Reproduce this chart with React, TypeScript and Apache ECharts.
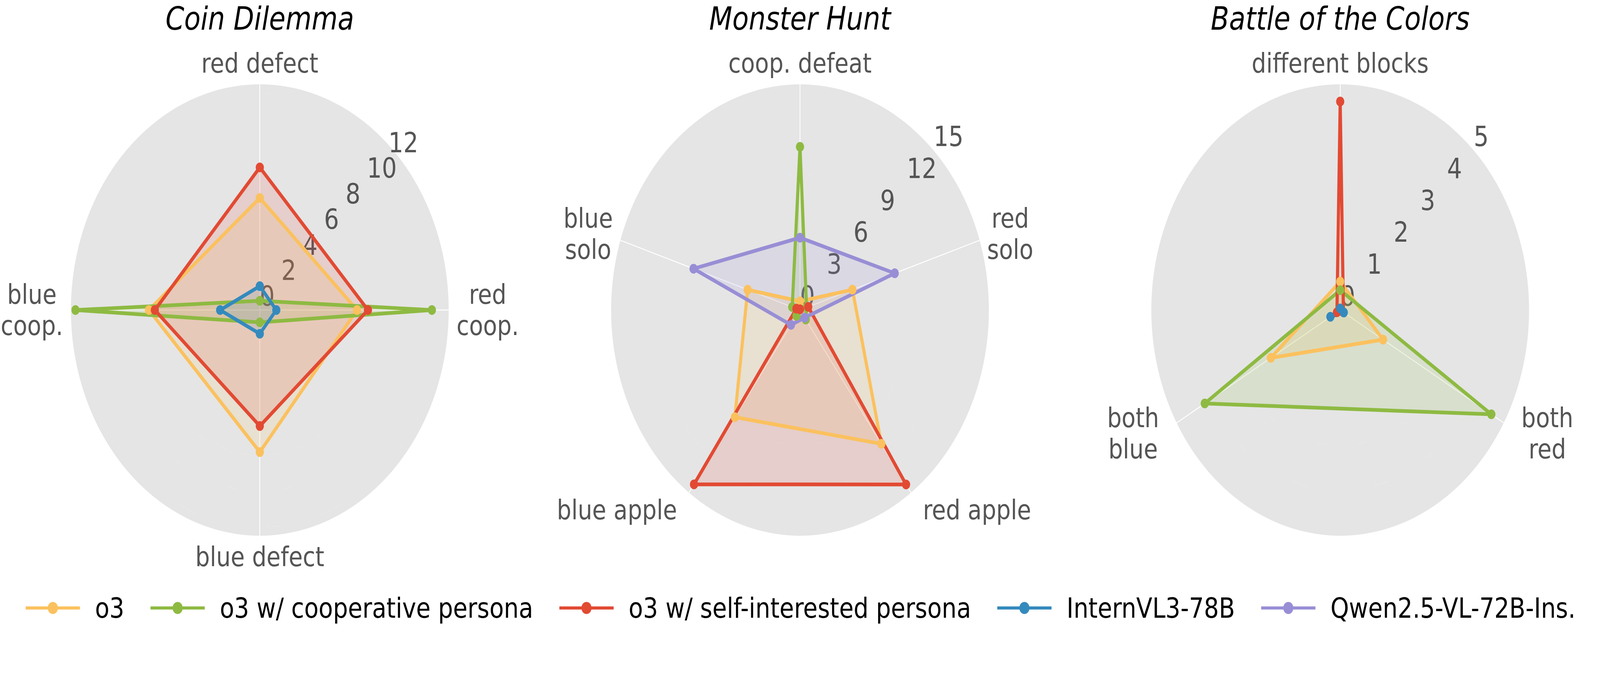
import React, { useEffect, useRef } from 'react';
import * as echarts from 'echarts';

// ---------- data ----------
const SERIES_NAMES = ['o3', 'o3 w/ cooperative persona', 'o3 w/ self-interested persona', 'InternVL3-78B', 'Qwen2.5-VL-72B-Ins.'];
const SERIES_COLORS = ['#FBC15E', '#8EBA42', '#E24A33', '#348ABD', '#988ED5'];

const coinTitle = 'Coin Dilemma';
const coinCategories = ['red defect', 'red\ncoop.', 'blue defect', 'blue\ncoop.'];
const coinTicks = [0, 2, 4, 6, 8, 10, 12];
const coinMax = 12.47;
const coinO3 = [6.19, 6.42, 7.85, 7.32];
const coinCoop = [0.51, 11.36, 0.68, 12.17];
const coinSelf = [7.88, 7.14, 6.41, 6.93];
const coinIntern = [1.32, 1.09, 1.31, 2.62];

const monsterTitle = 'Monster Hunt';
const monsterCategories = ['coop. defeat', 'red\nsolo', 'red apple', 'blue apple', 'blue\nsolo'];
const monsterTicks = [0, 3, 6, 9, 12, 15];
const monsterMax = 15;
const monsterO3 = [0.58, 4.38, 10.99, 8.8, 4.37];
const monsterCoop = [10.85, 0.55, 0.78, 0.47, 0.65];
const monsterSelf = [0.05, 0.69, 14.33, 14.32, 0.3];
const monsterQwen = [4.81, 7.91, 0.63, 1.22, 8.89];

const battleTitle = 'Battle of the Colors';
const battleCategories = ['different blocks', 'both\nred', 'both\nblue'];
const battleTicks = [0, 1, 2, 3, 4, 5];
const battleMax = 5;
const battleO3 = [0.63, 1.31, 2.12];
const battleCoop = [0.44, 4.62, 4.14];
const battleSelf = [4.62, 0.1, 0.1];
const battleIntern = [0.035, 0.11, 0.3];

// ---------- layout / style (reference pixels) ----------
const FONT = 'DejaVu Sans';
const REF_W = 4896;
const REF_H = 1785;
const CENTERS_X = [795, 2448, 4101];
const CENTER_Y = 794;
const RADIUS = 578;
const TICK_FS = 72;
const LABEL_FS = 70;
const LABEL_LH = 80;
const TITLE_FS = 82;
const LEGEND_FS = 72;
const LINE_W = 9.5;
const SYMBOL_SIZE = 25;
const M_H_FLAT = 24;
const M_H_DIAG = 62;
const M_V = 54;

const charts = [
  { title: coinTitle, categories: coinCategories, ticks: coinTicks, rMax: coinMax, values: [coinO3, coinCoop, coinSelf, coinIntern, null] },
  { title: monsterTitle, categories: monsterCategories, ticks: monsterTicks, rMax: monsterMax, values: [monsterO3, monsterCoop, monsterSelf, null, monsterQwen] },
  { title: battleTitle, categories: battleCategories, ticks: battleTicks, rMax: battleMax, values: [battleO3, battleCoop, battleSelf, battleIntern, null] },
];

function measureText(text: string, size: number): number {
  const ctx = document.createElement('canvas').getContext('2d');
  if (!ctx) return text.length * size * 0.6;
  ctx.font = `${size}px "${FONT}"`;
  return Math.max(...text.split('\n').map((l) => ctx.measureText(l).width));
}

function buildOption() {
  const polar: any[] = [];
  const angleAxis: any[] = [];
  const radiusAxis: any[] = [];
  const series: any[] = [];
  const title: any[] = [];

  charts.forEach((ch, k) => {
    const n = ch.categories.length;
    const step = 360 / n;
    const tickStep = ch.ticks[1] - ch.ticks[0];
    const cx = CENTERS_X[k];
    const cy = CENTER_Y;
    const pA = 2 * k;
    const pB = 2 * k + 1;

    title.push({
      text: ch.title,
      left: cx,
      top: 7,
      padding: 0,
      textAlign: 'center',
      textStyle: { fontSize: TITLE_FS, fontStyle: 'italic', fontWeight: 'normal', color: '#000', fontFamily: FONT },
    });

    polar.push({ center: [cx, cy], radius: RADIUS });
    polar.push({ center: [cx, cy], radius: RADIUS });

    angleAxis.push({
      polarIndex: pA, type: 'value', min: 0, max: 360, interval: step, startAngle: 90, clockwise: true,
      axisLine: { show: false }, axisTick: { show: false }, axisLabel: { show: false },
      splitLine: { show: true, lineStyle: { color: '#ffffff', width: 2.5 } }, z: 0,
    });
    angleAxis.push({
      polarIndex: pB, type: 'value', min: 0, max: 360, startAngle: 45, clockwise: true,
      axisLine: { show: false }, axisTick: { show: false }, axisLabel: { show: false }, splitLine: { show: false },
    });

    radiusAxis.push({
      polarIndex: pA, type: 'value', min: 0, max: ch.rMax, interval: tickStep,
      axisLine: { show: false }, axisTick: { show: false }, axisLabel: { show: false },
      splitLine: { show: true, lineStyle: { color: '#ffffff', width: 2.5 } },
      splitArea: { show: true, areaStyle: { color: ['#E5E5E5'] } }, z: 0,
    });
    radiusAxis.push({
      polarIndex: pB, type: 'value', min: 0, max: ch.rMax, interval: tickStep,
      axisLine: { show: false }, axisTick: { show: false }, splitLine: { show: false }, splitArea: { show: false },
      axisLabel: {
        show: true, margin: 0, align: 'left', verticalAlign: 'bottom', fontSize: TICK_FS, color: '#555555', fontFamily: FONT,
        formatter: (v: number) => (ch.ticks.some((t) => Math.abs(t - v) < 1e-6) ? String(Math.round(v)) : ''),
      },
      z: 1,
    });

    ch.values.forEach((vals, si) => {
      if (!vals) return;
      const color = SERIES_COLORS[si];
      const data: any[] = vals.map((v, i) => [v, i * step]);
      data.push({ value: [vals[0], 360], symbol: 'none' });
      series.push({
        type: 'line', name: SERIES_NAMES[si], coordinateSystem: 'polar', polarIndex: pA,
        data, symbol: 'circle', symbolSize: SYMBOL_SIZE, showSymbol: true,
        lineStyle: { color, width: LINE_W }, itemStyle: { color },
        areaStyle: { color, opacity: 0.15, origin: 'start' },
        emphasis: { disabled: true }, z: 2,
      });
    });

    // category labels, anchored at the outer edge of each spoke
    series.push({
      type: 'scatter', name: `labels-${k}`, coordinateSystem: 'polar', polarIndex: pA, silent: true, clip: false,
      symbolSize: 1, itemStyle: { color: 'rgba(0,0,0,0)', opacity: 1 }, z: 3,
      emphasis: { disabled: true },
      data: ch.categories.map((c, i) => {
        const ang = ((90 - i * step) * Math.PI) / 180;
        const cos = Math.cos(ang);
        const sin = Math.sin(ang);
        const sgn = Math.abs(cos) > 0.3 ? Math.sign(cos) : 0;
        const mh = Math.abs(sin) < 0.35 ? M_H_FLAT : M_H_DIAG;
        const halfW = measureText(c, LABEL_FS) / 2;
        const dx = sgn === 0 ? mh * cos : mh * cos + sgn * halfW;
        return {
          value: [ch.rMax, i * step],
          label: {
            show: true, formatter: c, position: 'inside', offset: [dx, -M_V * sin],
            align: 'center', verticalAlign: 'middle', fontSize: LABEL_FS, lineHeight: LABEL_LH,
            color: '#555555', fontFamily: FONT, opacity: 1, textBorderWidth: 0,
          },
        };
      }),
    });
  });

  return {
    animation: false,
    backgroundColor: '#ffffff',
    textStyle: { fontFamily: FONT },
    title,
    polar,
    angleAxis,
    radiusAxis,
    legend: {
      data: SERIES_NAMES, left: 'center', top: 1516, itemGap: 76, itemWidth: 166, itemHeight: 39,
      selectedMode: false,
      lineStyle: { width: 8 },
      textStyle: { fontSize: LEGEND_FS, color: '#000000', fontFamily: FONT, padding: [0, 0, 0, 41] },
    },
    series,
  };
}

export default function App() {
  const ref = useRef<HTMLDivElement>(null);
  const vw = typeof window !== 'undefined' ? window.innerWidth : REF_W;
  const vh = typeof window !== 'undefined' ? window.innerHeight : REF_H;
  const sx = vw / REF_W;
  const sy = vh / REF_H;
  useEffect(() => {
    if (!ref.current) return;
    const chart = echarts.init(ref.current, undefined, { renderer: 'svg' });
    chart.setOption(buildOption() as any);
    return () => chart.dispose();
  }, []);
  return (
    <div style={{ position: 'absolute', left: 0, top: 0, width: vw, height: vh, overflow: 'hidden', background: '#fff' }}>
      <div
        ref={ref}
        style={{ width: REF_W, height: REF_H, transform: `scale(${sx}, ${sy})`, transformOrigin: '0 0', background: '#fff' }}
      />
    </div>
  );
}
